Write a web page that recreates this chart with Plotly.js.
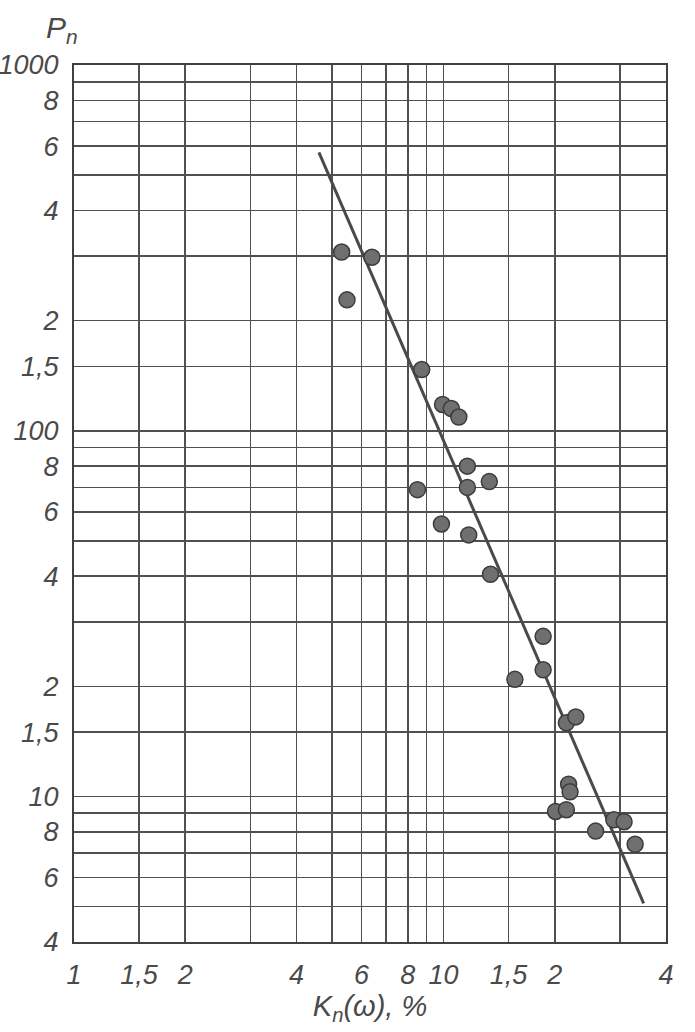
<!DOCTYPE html>
<html>
<head>
<meta charset="utf-8">
<script src="https://cdn.plot.ly/plotly-3.0.1.min.js"></script>
<style>html,body{margin:0;padding:0;background:#fff;}#chart{width:695px;height:1032px;}</style>
</head>
<body>
<div id="chart"></div>
<script>
// Labelled tick values and their labels
const xTickVals = [1, 1.5, 2, 4, 6, 8, 10, 15, 20, 40];
const xTickText = ['1', '1,5', '2', '4', '6', '8', '10', '1,5', '2', '4'];
const xMinorGrid = [3, 5, 7, 9, 30];
const yTickVals = [4, 6, 8, 10, 15, 20, 40, 60, 80, 100, 150, 200, 400, 600, 800, 1000];
const yTickText = ['4', '6', '8', '10', '1,5', '2', '4', '6', '8', '100', '1,5', '2', '4', '6', '8', '1000'];
const yMinorGrid = [5, 7, 9, 30, 50, 70, 90, 300, 500, 700, 900];

// Measured points: Kn(ω), % and Pn
const knValues = [5.30, 6.40, 5.48, 8.73, 9.94, 10.5, 11.0, 11.6, 13.3, 11.6, 8.5, 9.87, 11.7, 13.4, 18.6, 18.6, 15.6, 21.5, 22.8, 21.8, 22.0, 20.1, 21.5, 28.9, 30.8, 25.8, 33.0];
const pnValues = [308, 298, 228, 147, 118, 115, 109, 80, 72.6, 70, 69, 55.6, 51.9, 40.5, 27.4, 22.2, 20.9, 15.9, 16.5, 10.8, 10.3, 9.1, 9.2, 8.63, 8.53, 8.04, 7.4];

// Fitted straight line (end points)
const fitKn = [4.6, 34.8];
const fitPn = [577, 5.1];

const fontFam = '"Liberation Sans", Arial, sans-serif';
const tickFont = {family: fontFam, size: 27, color: '#4a4a4a', style: 'italic'};
const gridCol = '#505050';

const traces = [
  {
    x: fitKn, y: fitPn, type: 'scatter', mode: 'lines',
    line: {color: '#4a4a4a', width: 3},
    hoverinfo: 'skip', showlegend: false
  },
  {
    x: knValues, y: pnValues, type: 'scatter', mode: 'markers',
    marker: {size: 16, color: '#6f6f6f', line: {color: '#3c3c3c', width: 1.5}},
    showlegend: false
  }
];

const layout = {
  width: 695, height: 1032,
  margin: {l: 74, r: 29, t: 65, b: 90},
  paper_bgcolor: '#ffffff', plot_bgcolor: '#ffffff',
  showlegend: false,
  xaxis: {
    type: 'log', range: [0, Math.log10(40)],
    tickmode: 'array', tickvals: xTickVals, ticktext: xTickText,
    ticks: '', ticklabelstandoff: 8,
    tickfont: tickFont,
    showgrid: true, gridcolor: gridCol, gridwidth: 1.6,
    minor: {tickmode: 'array', tickvals: xMinorGrid, ticks: '', showgrid: true, gridcolor: gridCol, gridwidth: 1.6},
    showline: true, linecolor: '#404040', linewidth: 2, mirror: true,
    zeroline: false,
    title: {text: 'K<sub>n</sub>(ω), %', font: {family: fontFam, size: 29, color: '#4a4a4a', style: 'italic'}, standoff: 0}
  },
  yaxis: {
    type: 'log', range: [Math.log10(4), 3],
    tickmode: 'array', tickvals: yTickVals, ticktext: yTickText,
    ticks: '', ticklabelstandoff: 8,
    tickfont: tickFont,
    showgrid: true, gridcolor: gridCol, gridwidth: 1.6,
    minor: {tickmode: 'array', tickvals: yMinorGrid, ticks: '', showgrid: true, gridcolor: gridCol, gridwidth: 1.6},
    showline: true, linecolor: '#404040', linewidth: 2, mirror: true,
    zeroline: false
  },
  annotations: [
    {
      text: 'P<sub>n</sub>', xref: 'paper', yref: 'paper',
      x: -0.02, y: 1.04, xanchor: 'center', yanchor: 'middle',
      showarrow: false,
      font: {family: fontFam, size: 30, color: '#4a4a4a', style: 'italic'}
    }
  ]
};

Plotly.newPlot('chart', traces, layout, {displayModeBar: false, staticPlot: true});
</script>
</body>
</html>
